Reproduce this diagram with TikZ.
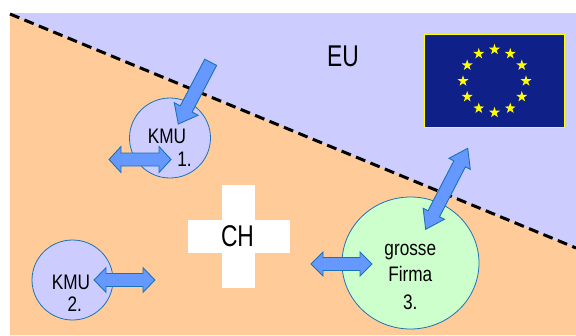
\documentclass[tikz,border=0pt]{standalone}
\usepackage{fontspec}
\usetikzlibrary{shapes.geometric,calc}
\newfontfamily\labfont[FakeStretch=0.82]{Liberation Sans}
\newfontfamily\bigfont[FakeStretch=0.76]{Liberation Sans}
\definecolor{euback}{HTML}{CCCCFF}
\definecolor{chback}{HTML}{FFCC99}
\definecolor{firm}{HTML}{CCFFCC}
\definecolor{arrowfill}{HTML}{6699FF}
\definecolor{arrowline}{HTML}{1C72B4}
\definecolor{flagblue}{HTML}{0F2088}
\definecolor{staryellow}{HTML}{FFFF00}
\tikzset{
  x=1pt,y=-1pt,
  lab/.style={font=\labfont\fontsize{21}{21}\selectfont,text=black,inner sep=0pt,align=center},
  biglab/.style={font=\bigfont\fontsize{30}{30}\selectfont,text=black,inner sep=0pt,align=center},
  circ/.style={draw=arrowline,line width=.8pt,fill=#1,ellipse,inner sep=0pt},
  blockarrow/.style={draw=arrowline,line width=.9pt,fill=arrowfill,line join=miter},
  eustar/.style={star,star points=5,star point ratio=2.6,fill=staryellow,minimum size=11.5pt,inner sep=0pt},
}
% #1 tip, #2 other tip, #3 head length, #4 head half width: double-headed block arrow
\newcommand{\dblarrow}[4]{%
  \draw[blockarrow]
    let \p1=($(#2)-(#1)$),\n1={atan2(\y1,\x1)},\n2={veclen(\x1,\y1)} in
    [shift={(#1)},rotate=\n1,y=1pt]
    (0pt,0pt)--(#3pt,#4pt)--(#3pt,6.5pt)--(\n2-#3pt,6.5pt)--(\n2-#3pt,#4pt)--(\n2,0pt)
    --(\n2-#3pt,-#4pt)--(\n2-#3pt,-6.5pt)--(#3pt,-6.5pt)--(#3pt,-#4pt)--cycle;}
% #1 tip, #2 tail centre: single-headed block arrow
\newcommand{\onearrow}[2]{%
  \draw[blockarrow]
    let \p1=($(#2)-(#1)$),\n1={atan2(\y1,\x1)},\n2={veclen(\x1,\y1)} in
    [shift={(#1)},rotate=\n1,y=1pt]
    (0pt,0pt)--(17pt,13.5pt)--(17pt,6.7pt)--(\n2,6.7pt)--(\n2,-6.7pt)--(17pt,-6.7pt)--(17pt,-13.5pt)--cycle;}
\begin{document}
\begin{tikzpicture}
\useasboundingbox (0,0) rectangle (576,335);
\fill[white] (0,0) rectangle (576,335);
\fill[euback] (10,13) rectangle (576,335);
\fill[chback] (10,14) -- (576,248) -- (576,335) -- (10,335) -- cycle;
\draw[black,line width=3pt,dash pattern=on 10pt off 5.6pt] (10,14) -- (576,248);
% cross
\fill[white] (222,185) rectangle (255,288);
\fill[white] (188,220) rectangle (290,253);
\node[biglab] (ch) at (237.5,236.5) {CH};
\node[biglab] (eu) at (343,56) {EU};
% flag
\node[draw=staryellow,line width=1.2pt,fill=flagblue,minimum width=140pt,minimum height=93pt,inner sep=0pt] (flag) at (494.5,81) {};
\foreach \a in {0,30,...,330}
  \node[eustar] (s\a) at ($(flag.center)+(\a:31.5pt and 31.5pt)$) {};
% circles
\node[circ=euback,minimum width=81pt,minimum height=80pt] (k1) at (170,138) {};
\node[circ=euback,minimum width=81pt,minimum height=80pt] (k2) at (72.5,280) {};
\node[circ=firm,minimum width=137pt,minimum height=132pt] (gf) at (410.5,263) {};
\node[lab] (t1) at (167,136) {KMU};
\node[lab] (t1b) at (184.5,159) {1.};
\node[lab] (t2) at (71,282) {KMU};
\node[lab] (t2b) at (74.7,304.5) {2.};
\node[lab] (t3a) at (410.3,252) {grosse};
\node[lab] (t3b) at (410.3,274) {Firma};
\node[lab] (t3c) at (410.3,302) {3.};
% arrows
\coordinate (a1h) at (178.3,124);
\coordinate (a1t) at (210.7,62.3);
\onearrow{a1h}{a1t}
\coordinate (a1l) at (109,159.5); \coordinate (a1r) at (171,159.5);
\dblarrow{a1l}{a1r}{12}{13}
\coordinate (a2l) at (94,280); \coordinate (a2r) at (155,280);
\dblarrow{a2l}{a2r}{12}{12.3}
\coordinate (a3l) at (311,264); \coordinate (a3r) at (372,264);
\dblarrow{a3l}{a3r}{12}{12}
\coordinate (a4l) at (425.7,229.3); \coordinate (a4r) at (467.7,148.3);
\dblarrow{a4l}{a4r}{17.5}{12}
\end{tikzpicture}
\end{document}
